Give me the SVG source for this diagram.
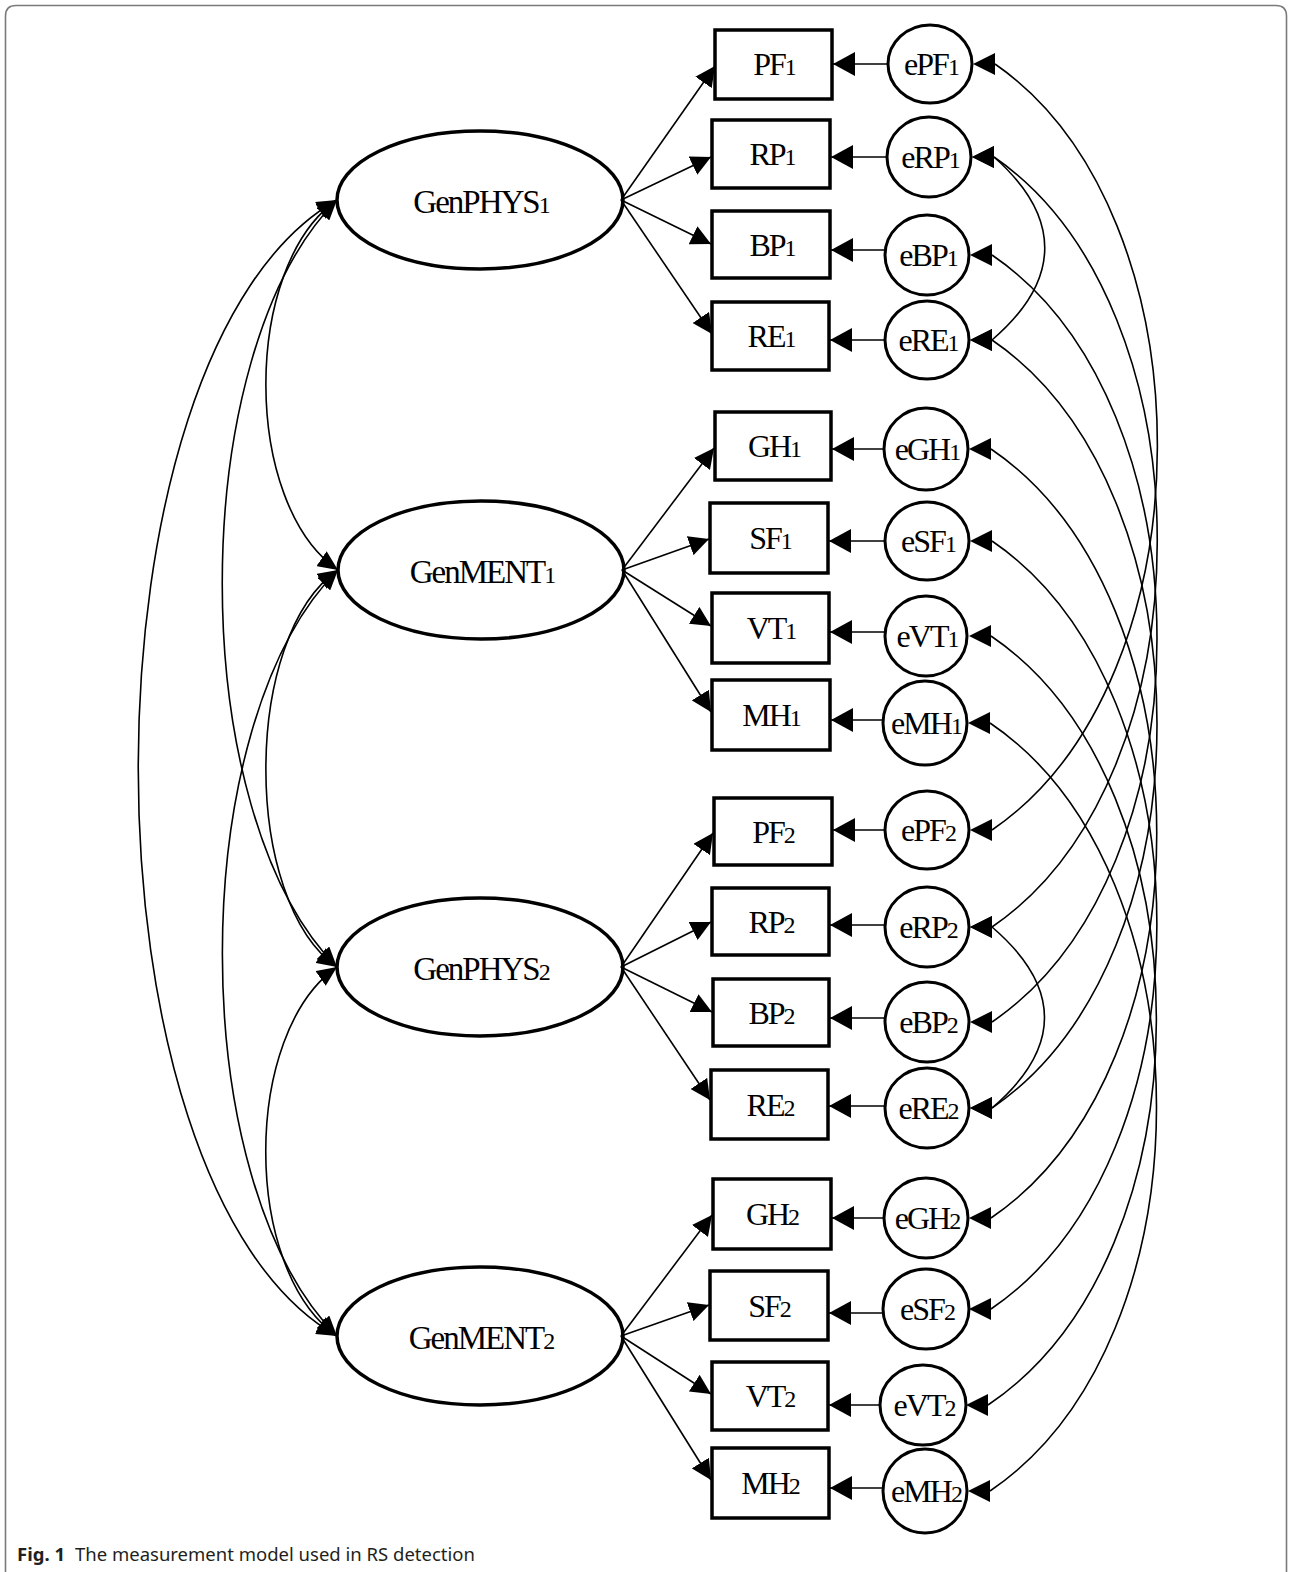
<svg xmlns="http://www.w3.org/2000/svg" width="1290" height="1572" viewBox="0 0 1290 1572">
<style>
.box{fill:#fff;stroke:#000;stroke-width:3.5}
.lat{fill:#fff;stroke:#000;stroke-width:3.5}
.err{fill:#fff;stroke:#000;stroke-width:3}
.t{font-family:"Liberation Serif","Times New Roman",serif;font-size:32px;letter-spacing:-2px;text-anchor:middle;fill:#000}
.tl{font-family:"Liberation Serif","Times New Roman",serif;font-size:33px;letter-spacing:-2px;text-anchor:middle;fill:#000}
.s{font-size:24px}
.ln{fill:none;stroke:#000;stroke-width:1.6}
.load{marker-end:url(#mL)}
.eh{marker-end:url(#mE)}
.rc{marker-start:url(#mR);marker-end:url(#mR)}
.lc{marker-start:url(#mC);marker-end:url(#mC)}
.cap{font-family:"Noto Sans","Open Sans",sans-serif;font-size:18.5px;fill:#231f20}
</style>
<defs>
<marker id="mL" viewBox="0 0 20 20" refX="20" refY="10" markerWidth="20" markerHeight="20" markerUnits="userSpaceOnUse" orient="auto"><path d="M0,0 L20,10 L0,20 Z" fill="#000"/></marker>
<marker id="mE" viewBox="0 0 22 24" refX="22" refY="12" markerWidth="22" markerHeight="24" markerUnits="userSpaceOnUse" orient="auto"><path d="M0,0 L22,12 L0,24 Z" fill="#000"/></marker>
<marker id="mR" viewBox="0 0 22 22" refX="22" refY="11" markerWidth="22" markerHeight="22" markerUnits="userSpaceOnUse" orient="0"><path d="M0,11 L22,0 L22,22 Z" fill="#000"/></marker>
<marker id="mC" viewBox="0 0 20 18" refX="20" refY="9" markerWidth="20" markerHeight="18" markerUnits="userSpaceOnUse" orient="auto-start-reverse"><path d="M0,0 L20,9 L0,18 Z" fill="#000"/></marker>
</defs>
<rect width="1290" height="1572" fill="#fff"/>
<path d="M5.5 1572 V16 Q5.5 5.5 16 5.5 H1276 Q1286.5 5.5 1286.5 16 V1572" fill="none" stroke="#7a7a7a" stroke-width="1.6"/>

<g id="GenPHYS1"><ellipse class="lat" cx="480" cy="200" rx="143" ry="69"/><text class="tl" x="481" y="213">GenPHYS<tspan class="s">1</tspan></text></g>
<g id="GenMENT1"><ellipse class="lat" cx="481" cy="570" rx="143" ry="69"/><text class="tl" x="482" y="583">GenMENT<tspan class="s">1</tspan></text></g>
<g id="GenPHYS2"><ellipse class="lat" cx="480" cy="967" rx="143" ry="69"/><text class="tl" x="481" y="980">GenPHYS<tspan class="s">2</tspan></text></g>
<g id="GenMENT2"><ellipse class="lat" cx="480" cy="1336" rx="143" ry="69"/><text class="tl" x="481" y="1349">GenMENT<tspan class="s">2</tspan></text></g>

<g id="PF1"><rect class="box" x="715" y="30" width="117" height="69"/><text class="t" x="774" y="75">PF<tspan class="s">1</tspan></text></g>
<g id="RP1"><rect class="box" x="712" y="120" width="118" height="68"/><text class="t" x="772" y="165">RP<tspan class="s">1</tspan></text></g>
<g id="BP1"><rect class="box" x="712" y="211" width="118" height="67"/><text class="t" x="772" y="256">BP<tspan class="s">1</tspan></text></g>
<g id="RE1"><rect class="box" x="712" y="302" width="117" height="68"/><text class="t" x="771" y="347">RE<tspan class="s">1</tspan></text></g>
<g id="GH1"><rect class="box" x="715" y="412" width="116" height="68"/><text class="t" x="774" y="457">GH<tspan class="s">1</tspan></text></g>
<g id="SF1"><rect class="box" x="710" y="503" width="118" height="70"/><text class="t" x="770" y="549">SF<tspan class="s">1</tspan></text></g>
<g id="VT1"><rect class="box" x="712" y="593" width="117" height="70"/><text class="t" x="771" y="639">VT<tspan class="s">1</tspan></text></g>
<g id="MH1"><rect class="box" x="712" y="680" width="118" height="70"/><text class="t" x="771" y="726">MH<tspan class="s">1</tspan></text></g>
<g id="PF2"><rect class="box" x="714" y="798" width="118" height="67"/><text class="t" x="773" y="843">PF<tspan class="s">2</tspan></text></g>
<g id="RP2"><rect class="box" x="712" y="888" width="117" height="67"/><text class="t" x="771" y="933">RP<tspan class="s">2</tspan></text></g>
<g id="BP2"><rect class="box" x="713" y="979" width="116" height="67"/><text class="t" x="771" y="1024">BP<tspan class="s">2</tspan></text></g>
<g id="RE2"><rect class="box" x="711" y="1070" width="117" height="69"/><text class="t" x="770" y="1116">RE<tspan class="s">2</tspan></text></g>
<g id="GH2"><rect class="box" x="713" y="1179" width="118" height="70"/><text class="t" x="772" y="1225">GH<tspan class="s">2</tspan></text></g>
<g id="SF2"><rect class="box" x="710" y="1271" width="118" height="69"/><text class="t" x="769" y="1317">SF<tspan class="s">2</tspan></text></g>
<g id="VT2"><rect class="box" x="712" y="1362" width="116" height="68"/><text class="t" x="770" y="1407">VT<tspan class="s">2</tspan></text></g>
<g id="MH2"><rect class="box" x="712" y="1448" width="117" height="70"/><text class="t" x="770" y="1494">MH<tspan class="s">2</tspan></text></g>

<g id="ePF1"><ellipse class="err" cx="930" cy="64" rx="42" ry="39"/><text class="t" x="931" y="75">ePF<tspan class="s">1</tspan></text></g>
<g id="eRP1"><ellipse class="err" cx="929" cy="157" rx="42" ry="40"/><text class="t" x="930" y="168">eRP<tspan class="s">1</tspan></text></g>
<g id="eBP1"><ellipse class="err" cx="927" cy="255" rx="42" ry="40"/><text class="t" x="928" y="266">eBP<tspan class="s">1</tspan></text></g>
<g id="eRE1"><ellipse class="err" cx="927" cy="340" rx="42" ry="39"/><text class="t" x="928" y="351">eRE<tspan class="s">1</tspan></text></g>
<g id="eGH1"><ellipse class="err" cx="926" cy="449" rx="42" ry="41"/><text class="t" x="927" y="460">eGH<tspan class="s">1</tspan></text></g>
<g id="eSF1"><ellipse class="err" cx="927" cy="541" rx="42" ry="39"/><text class="t" x="928" y="552">eSF<tspan class="s">1</tspan></text></g>
<g id="eVT1"><ellipse class="err" cx="926" cy="636" rx="41" ry="40"/><text class="t" x="927" y="647">eVT<tspan class="s">1</tspan></text></g>
<g id="eMH1"><ellipse class="err" cx="925" cy="723" rx="42" ry="42"/><text class="t" x="926" y="734">eMH<tspan class="s">1</tspan></text></g>
<g id="ePF2"><ellipse class="err" cx="927" cy="830" rx="42" ry="39"/><text class="t" x="928" y="841">ePF<tspan class="s">2</tspan></text></g>
<g id="eRP2"><ellipse class="err" cx="927" cy="927" rx="42" ry="40"/><text class="t" x="928" y="938">eRP<tspan class="s">2</tspan></text></g>
<g id="eBP2"><ellipse class="err" cx="927" cy="1022" rx="42" ry="40"/><text class="t" x="928" y="1033">eBP<tspan class="s">2</tspan></text></g>
<g id="eRE2"><ellipse class="err" cx="927" cy="1108" rx="42" ry="40"/><text class="t" x="928" y="1119">eRE<tspan class="s">2</tspan></text></g>
<g id="eGH2"><ellipse class="err" cx="926" cy="1218" rx="42" ry="40"/><text class="t" x="927" y="1229">eGH<tspan class="s">2</tspan></text></g>
<g id="eSF2"><ellipse class="err" cx="926" cy="1309" rx="43" ry="40"/><text class="t" x="927" y="1320">eSF<tspan class="s">2</tspan></text></g>
<g id="eVT2"><ellipse class="err" cx="923" cy="1405" rx="43" ry="40"/><text class="t" x="924" y="1416">eVT<tspan class="s">2</tspan></text></g>
<g id="eMH2"><ellipse class="err" cx="925" cy="1491" rx="42" ry="42"/><text class="t" x="926" y="1502">eMH<tspan class="s">2</tspan></text></g>

<g id="connectors">
<g id="loadings">
<line class="ln load" x1="621" y1="200" x2="715" y2="66"/>
<line class="ln load" x1="621" y1="200" x2="711" y2="157"/>
<line class="ln load" x1="621" y1="200" x2="711" y2="244"/>
<line class="ln load" x1="621" y1="200" x2="712" y2="334"/>
<line class="ln load" x1="622" y1="570" x2="714" y2="448"/>
<line class="ln load" x1="622" y1="570" x2="709" y2="539"/>
<line class="ln load" x1="622" y1="570" x2="711" y2="626"/>
<line class="ln load" x1="622" y1="570" x2="711" y2="712"/>
<line class="ln load" x1="621" y1="967" x2="713" y2="833"/>
<line class="ln load" x1="621" y1="967" x2="711" y2="922"/>
<line class="ln load" x1="621" y1="967" x2="712" y2="1012"/>
<line class="ln load" x1="621" y1="967" x2="710" y2="1100"/>
<line class="ln load" x1="621" y1="1336" x2="712" y2="1215"/>
<line class="ln load" x1="621" y1="1336" x2="709" y2="1305"/>
<line class="ln load" x1="621" y1="1336" x2="711" y2="1394"/>
<line class="ln load" x1="621" y1="1336" x2="711" y2="1480"/>
</g>
<g id="errors">
<line class="ln eh" x1="888" y1="64" x2="833" y2="64"/>
<line class="ln eh" x1="887" y1="157" x2="831" y2="157"/>
<line class="ln eh" x1="885" y1="250" x2="831" y2="250"/>
<line class="ln eh" x1="885" y1="340" x2="830" y2="340"/>
<line class="ln eh" x1="884" y1="449" x2="832" y2="449"/>
<line class="ln eh" x1="885" y1="541" x2="829" y2="541"/>
<line class="ln eh" x1="885" y1="632" x2="830" y2="632"/>
<line class="ln eh" x1="883" y1="720" x2="831" y2="720"/>
<line class="ln eh" x1="885" y1="830" x2="833" y2="830"/>
<line class="ln eh" x1="885" y1="925" x2="830" y2="925"/>
<line class="ln eh" x1="885" y1="1018" x2="830" y2="1018"/>
<line class="ln eh" x1="885" y1="1106" x2="829" y2="1106"/>
<line class="ln eh" x1="884" y1="1218" x2="832" y2="1218"/>
<line class="ln eh" x1="883" y1="1313" x2="829" y2="1313"/>
<line class="ln eh" x1="880" y1="1405" x2="829" y2="1405"/>
<line class="ln eh" x1="883" y1="1488" x2="830" y2="1488"/>
</g>
<g id="errorCovariances">
<path class="ln rc" d="M995 64 C1212 214 1212 680 992 830"/>
<path class="ln rc" d="M994 157 C1212 307 1212 777 992 927"/>
<path class="ln rc" d="M992 255 C1212 405 1212 872 992 1022"/>
<path class="ln rc" d="M992 340 C1212 490 1212 958 992 1108"/>
<path class="ln rc" d="M991 449 C1212 599 1212 1068 991 1218"/>
<path class="ln rc" d="M992 541 C1212 691 1212 1159 991 1309"/>
<path class="ln rc" d="M991 636 C1212 786 1212 1255 988 1405"/>
<path class="ln rc" d="M990 723 C1212 873 1212 1341 990 1491"/>
<path class="ln rc" d="M994 157 C1062 217 1062 280 992 340"/>
<path class="ln rc" d="M992 927 C1062 987 1062 1048 992 1108"/>
</g>
<g id="latentCovariances">
<path class="ln lc" d="M337 200 C242 266 242 504 338 570"/>
<path class="ln lc" d="M338 570 C242 636 242 901 337 967"/>
<path class="ln lc" d="M337 967 C242 1033 242 1270 337 1336"/>
<path class="ln lc" d="M337 200 C184 353 184 814 337 967"/>
<path class="ln lc" d="M338 570 C184 723 184 1183 337 1336"/>
<path class="ln lc" d="M337 200 C72 350 72 1186 337 1336"/>
</g>
</g>

<text class="cap" x="17" y="1561"><tspan font-weight="bold">Fig. 1</tspan><tspan dx="10">The measurement model used in RS detection</tspan></text>
</svg>
